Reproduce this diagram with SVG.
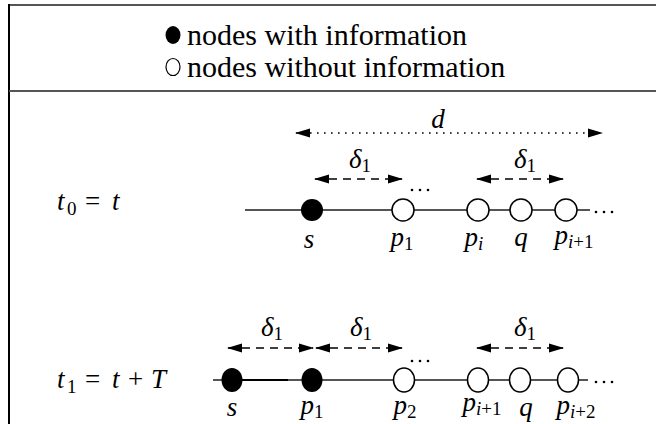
<svg xmlns="http://www.w3.org/2000/svg" width="656" height="424" viewBox="0 0 656 424">
<style>
.t{font-family:"Liberation Serif",serif;fill:#000}
.leg{font-size:30px}
.m{font-size:27px;font-style:italic}
.r{font-style:normal}
.sub{font-size:19px;font-style:normal}
.subi{font-size:19px;font-style:italic}
.axis{stroke:#555;stroke-width:2;fill:none}
.frame{stroke:#555;stroke-width:2;fill:none}
.on{fill:#000}
.off{fill:#fff;stroke:#000;stroke-width:1.5}
.dotted{stroke:#000;stroke-width:1.6;stroke-dasharray:1.6 5.4;fill:none}
.dashed{stroke:#000;stroke-width:1.6;stroke-dasharray:8 6;fill:none}
.dot{fill:#000}
</style>
<defs>
<marker id="ah" markerUnits="userSpaceOnUse" markerWidth="16" markerHeight="10" refX="14" refY="5" orient="auto-start-reverse">
<path d="M0,0.5 L15,5 L0,9.5 Z" fill="#000"/>
</marker>
</defs>
<g id="frame">
<line class="frame" x1="9" y1="5" x2="656" y2="5"/>
<line x1="9" y1="4" x2="9" y2="424" stroke="#000" stroke-width="2"/>
<line class="frame" x1="9" y1="91" x2="656" y2="91"/>
</g>
<g id="legend">
<ellipse class="on" cx="173" cy="35" rx="7.5" ry="9"/>
<text class="t leg" x="187" y="45">nodes with information</text>
<ellipse cx="173" cy="67" rx="7" ry="8.5" fill="#fff" stroke="#000" stroke-width="1.2"/>
<text class="t leg" x="187" y="77">nodes without information</text>
</g>
<g id="row1-axis">
<line class="axis" x1="245" y1="210" x2="590" y2="210"/>
</g>
<g id="row1-label"><text class="t m" y="210"><tspan x="57">t</tspan><tspan class="sub" x="67" dy="5">0</tspan><tspan class="r" x="85" dy="-5">=</tspan><tspan x="112">t</tspan></text></g>
<g id="r1-s"><circle class="on" cx="312" cy="210" r="11"/><text class="t m" x="309" y="248" text-anchor="middle">s</text></g>
<g id="r1-p1"><circle class="off" cx="403" cy="210" r="11"/><text class="t m" x="402" y="246" text-anchor="middle">p<tspan class="sub" dy="4">1</tspan></text></g>
<g id="r1-pi"><circle class="off" cx="478" cy="210" r="11"/><text class="t m" x="474" y="246" text-anchor="middle">p<tspan class="subi" dy="4">i</tspan></text></g>
<g id="r1-q"><circle class="off" cx="521" cy="210" r="11"/><text class="t m" x="521" y="246" text-anchor="middle">q</text></g>
<g id="r1-pi1"><circle class="off" cx="566" cy="210" r="11"/><text class="t m" x="574" y="244" text-anchor="middle">p<tspan class="subi" dy="4">i</tspan><tspan class="sub">+1</tspan></text></g>
<g id="r1-dots">
<circle class="dot" cx="412" cy="190" r="1.3"/><circle class="dot" cx="420" cy="190" r="1.3"/><circle class="dot" cx="428" cy="190" r="1.3"/>
<circle class="dot" cx="596" cy="212" r="1.3"/><circle class="dot" cx="604" cy="212" r="1.3"/><circle class="dot" cx="612" cy="212" r="1.3"/>
</g>
<g id="connectors">
<line class="dotted" x1="296" y1="133" x2="602" y2="133" marker-start="url(#ah)" marker-end="url(#ah)"/>
<line class="dashed" x1="315" y1="179" x2="402" y2="179" marker-start="url(#ah)" marker-end="url(#ah)"/>
<line class="dashed" x1="477" y1="179" x2="563" y2="179" marker-start="url(#ah)" marker-end="url(#ah)"/>
<line class="dashed" x1="228" y1="348" x2="313" y2="348" marker-start="url(#ah)" marker-end="url(#ah)"/>
<line class="dashed" x1="316" y1="348" x2="402" y2="348" marker-start="url(#ah)" marker-end="url(#ah)"/>
<line class="dashed" x1="477" y1="348" x2="563" y2="348" marker-start="url(#ah)" marker-end="url(#ah)"/>
</g>
<g id="dim-labels">
<text class="t m" x="438" y="128" text-anchor="middle">d</text>
<text class="t m" x="360" y="168" text-anchor="middle">δ<tspan class="sub" dy="4">1</tspan></text>
<text class="t m" x="525" y="168" text-anchor="middle">δ<tspan class="sub" dy="4">1</tspan></text>
<text class="t m" x="272" y="336" text-anchor="middle">δ<tspan class="sub" dy="4">1</tspan></text>
<text class="t m" x="361" y="336" text-anchor="middle">δ<tspan class="sub" dy="4">1</tspan></text>
<text class="t m" x="525" y="336" text-anchor="middle">δ<tspan class="sub" dy="4">1</tspan></text>
</g>
<g id="row2-axis">
<line class="axis" x1="213" y1="380" x2="588" y2="380"/>
<line x1="232" y1="380" x2="288" y2="380" stroke="#000" stroke-width="2"/>
</g>
<g id="row2-label"><text class="t m" y="388"><tspan x="57">t</tspan><tspan class="sub" x="67" dy="5">1</tspan><tspan class="r" x="85" dy="-5">=</tspan><tspan x="112">t</tspan><tspan class="r" x="128">+</tspan><tspan x="151">T</tspan></text></g>
<g id="r2-s"><ellipse class="on" cx="232" cy="380" rx="10.5" ry="12"/><text class="t m" x="232" y="416" text-anchor="middle">s</text></g>
<g id="r2-p1"><ellipse class="on" cx="312" cy="380" rx="10.5" ry="12"/><text class="t m" x="312" y="414" text-anchor="middle">p<tspan class="sub" dy="4">1</tspan></text></g>
<g id="r2-p2"><ellipse class="off" cx="404" cy="380" rx="10.5" ry="12"/><text class="t m" x="405" y="414" text-anchor="middle">p<tspan class="sub" dy="4">2</tspan></text></g>
<g id="r2-pi1"><ellipse class="off" cx="478" cy="380" rx="10.5" ry="12"/><text class="t m" x="482" y="411" text-anchor="middle">p<tspan class="subi" dy="4">i</tspan><tspan class="sub">+1</tspan></text></g>
<g id="r2-q"><ellipse class="off" cx="520" cy="380" rx="10.5" ry="12"/><text class="t m" x="526" y="416" text-anchor="middle">q</text></g>
<g id="r2-pi2"><ellipse class="off" cx="568" cy="380" rx="10.5" ry="12"/><text class="t m" x="576" y="414" text-anchor="middle">p<tspan class="subi" dy="4">i</tspan><tspan class="sub">+2</tspan></text></g>
<g id="r2-dots">
<circle class="dot" cx="412" cy="361" r="1.3"/><circle class="dot" cx="420" cy="361" r="1.3"/><circle class="dot" cx="428" cy="361" r="1.3"/>
<circle class="dot" cx="596" cy="382" r="1.3"/><circle class="dot" cx="604" cy="382" r="1.3"/><circle class="dot" cx="612" cy="382" r="1.3"/>
</g>
</svg>
